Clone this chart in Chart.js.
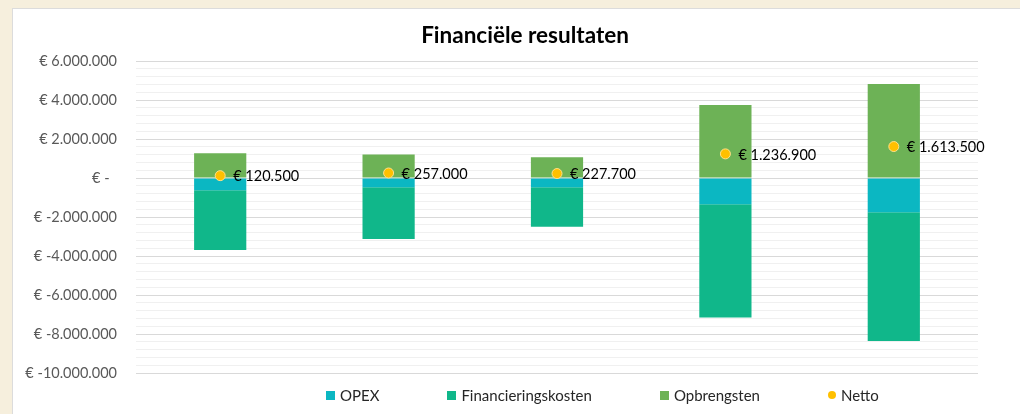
<!DOCTYPE html>
<html>
<head>
<meta charset="utf-8">
<script src="https://cdn.jsdelivr.net/npm/chart.js@4"></script>
<style>
    html, body { margin: 0; padding: 0; }
    body { width: 1020px; height: 414px; background: #f6efdd; position: relative; overflow: hidden; font-family: Lato, "Open Sans", sans-serif; }
    #box { position: absolute; left: 12px; top: 8px; right: 0; bottom: 0; background: #fff; border-top: 1px solid #dcdcdc; border-left: 1px solid #dcdcdc; overflow: hidden; }
    #wrap { position: absolute; left: 0; top: 0; width: 1024px; height: 405px; }
    #legend { position: absolute; left: 313px; top: 377px; display: flex; align-items: center; font-size: 15px; color: #262626; }
    .item { display: flex; align-items: center; margin-right: 68px; }
    .mark { width: 9px; height: 9px; margin-right: 5px; }
</style>
</head>
<body>
<div id="box">
    <div id="wrap"><canvas id="resultChart"></canvas></div>
    <div id="legend"></div>
</div>
<script>
    const categories = ["Jaar 1", "Jaar 2", "Jaar 3", "Jaar 4", "Jaar 5"];
    const opex = [-630000, -480000, -480000, -1350000, -1760000];
    const financieringskosten = [-3060000, -2650000, -2020000, -5810000, -6600000];
    const opbrengsten = [1270000, 1210000, 1060000, 3740000, 4820000];
    const netto = [120500, 257000, 227700, 1236900, 1613500];

    function euro(v) {
        v = Math.round(v);
        if (v === 0) return "€ -  ";
        let s = Math.abs(v).toFixed(0).replace(/\B(?=(\d{3})+(?!\d))/g, ".");
        return "€ " + (v < 0 ? "-" : "") + s;
    }

    // labels next to the Netto points
    const nettoLabels = {
        id: "nettoLabels",
        afterDatasetsDraw(chart) {
            let meta = chart.getDatasetMeta(3);
            let ctx = chart.ctx;
            ctx.save();
            ctx.font = "14.5px Lato";
            ctx.fillStyle = "#000";
            ctx.textAlign = "left";
            ctx.textBaseline = "middle";
            meta.data.forEach((pt, i) => {
                ctx.fillText(euro(netto[i]), pt.x + 13, pt.y + 1);
            });
            ctx.restore();
        }
    };

    let chart = new Chart(document.getElementById("resultChart"), {
        type: "bar",
        data: {
            labels: categories,
            datasets: [{
                label: "OPEX",
                data: opex,
                backgroundColor: "#0bb7c2",
                order: 1
            }, {
                label: "Financieringskosten",
                data: financieringskosten,
                backgroundColor: "#10b78a",
                order: 1
            }, {
                label: "Opbrengsten",
                data: opbrengsten,
                backgroundColor: "#6db256",
                order: 1
            }, {
                type: "line",
                label: "Netto",
                data: netto,
                showLine: false,
                pointRadius: 5,
                pointHoverRadius: 5,
                pointBackgroundColor: "#ffc000",
                pointBorderColor: "#ffe08a",
                pointBorderWidth: 1,
                order: 0
            }]
        },
        options: {
            responsive: true,
            maintainAspectRatio: false,
            animation: false,
            layout: { padding: { left: 0, right: 0, top: 4, bottom: 41 } },
            datasets: { bar: { barPercentage: 0.31, categoryPercentage: 1 } },
            plugins: {
                legend: { display: false },
                tooltip: { enabled: false },
                title: {
                    display: true,
                    text: "Financiële resultaten",
                    color: "#000",
                    font: { family: "Lato", size: 22.5, weight: "bold" },
                    padding: { top: 9.5, bottom: 11.5 }
                }
            },
            scales: {
                x: { display: false, stacked: true },
                y: {
                    stacked: true,
                    min: -10000000,
                    max: 6000000,
                    border: { display: false },
                    grid: {
                        drawTicks: false,
                        color: c => Math.round(c.tick.value) % 2000000 === 0 ? "#d9d9d9" : "#f0f0f0"
                    },
                    ticks: {
                        stepSize: 400000,
                        autoSkip: false,
                        padding: 19,
                        color: "#595959",
                        font: { family: "Lato", size: 14.5 },
                        callback: v => Math.round(v) % 2000000 === 0 ? euro(v) : ""
                    },
                    afterFit: scale => { scale.width = 123; }
                },
                // empty space on the right so the title sits where it should
                y2: {
                    position: "right",
                    border: { display: false },
                    grid: { display: false },
                    ticks: { display: false },
                    afterFit: scale => { scale.width = 59; }
                }
            }
        },
        plugins: [nettoLabels]
    });

    // legend in html, from the datasets
    let legend = document.getElementById("legend");
    chart.data.datasets.forEach(ds => {
        let color = ds.type === "line" ? ds.pointBackgroundColor : ds.backgroundColor;
        let round = ds.type === "line" ? "border-radius:50%;width:8px;height:8px;" : "";
        legend.innerHTML += `<div class="item"><span class="mark" style="background:${color};${round}"></span>${ds.label}</div>`;
    });
</script>
</body>
</html>
